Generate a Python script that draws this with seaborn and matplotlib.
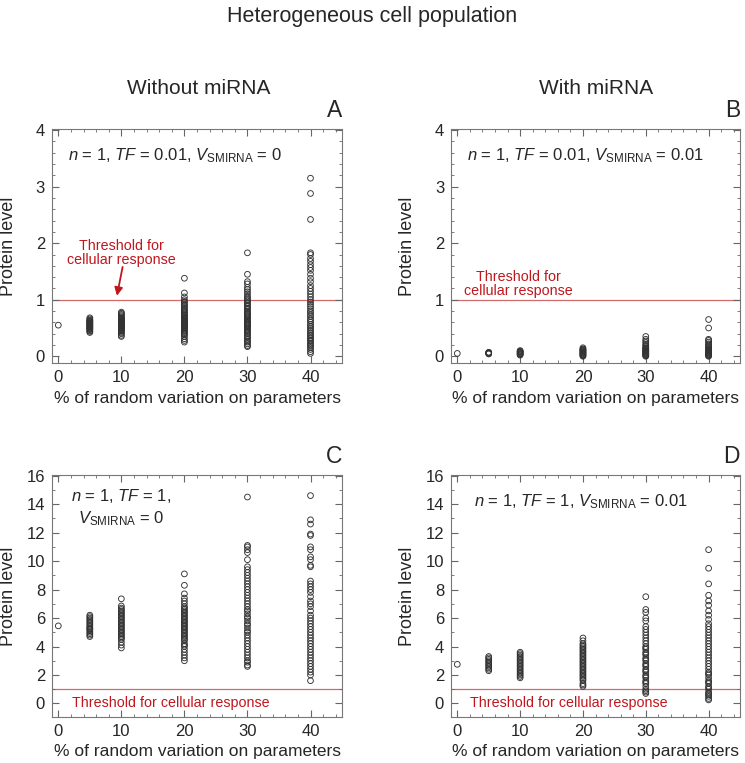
import numpy as np
import pandas as pd
import matplotlib.pyplot as plt
import seaborn as sns
from matplotlib.ticker import MultipleLocator

# x positions: % of random variation on parameters
variation = [0, 5, 10, 20, 30, 40]

# Panel A: TF = 0.01, no miRNA
a_0 = [0.55]
a_5 = [0.42, 0.44, 0.45, 0.47, 0.48, 0.49, 0.50, 0.51, 0.52, 0.53, 0.54, 0.55,
       0.56, 0.57, 0.58, 0.59, 0.60, 0.61, 0.62, 0.63, 0.64, 0.66, 0.68]
a_10 = [0.35, 0.37, 0.40, 0.42, 0.44, 0.45, 0.47, 0.48, 0.49, 0.50, 0.51, 0.52,
        0.53, 0.54, 0.55, 0.56, 0.57, 0.58, 0.59, 0.60, 0.61, 0.62, 0.63, 0.64,
        0.65, 0.66, 0.67, 0.68, 0.70, 0.72, 0.74, 0.76, 0.78]
a_20 = [0.25, 0.28, 0.31, 0.35, 0.38, 0.40, 0.42, 0.44, 0.46, 0.48, 0.50, 0.51,
        0.52, 0.54, 0.55, 0.56, 0.58, 0.59, 0.60, 0.62, 0.63, 0.64, 0.66, 0.67,
        0.68, 0.70, 0.72, 0.73, 0.75, 0.77, 0.79, 0.81, 0.83, 0.85, 0.88, 0.90,
        0.92, 0.95, 0.97, 1.00, 1.05, 1.12, 1.38]
a_30 = [0.17, 0.19, 0.22, 0.25, 0.27, 0.30, 0.33, 0.35, 0.37, 0.40, 0.42, 0.44,
        0.46, 0.48, 0.50, 0.52, 0.54, 0.55, 0.57, 0.59, 0.60, 0.62, 0.64, 0.66,
        0.68, 0.70, 0.72, 0.74, 0.76, 0.78, 0.80, 0.83, 0.85, 0.88, 0.90, 0.93,
        0.95, 0.98, 1.00, 1.03, 1.06, 1.10, 1.14, 1.18, 1.22, 1.28, 1.32, 1.45,
        1.83]
a_40 = [0.05, 0.08, 0.12, 0.15, 0.18, 0.20, 0.23, 0.26, 0.28, 0.31, 0.33, 0.36,
        0.38, 0.41, 0.44, 0.47, 0.50, 0.53, 0.56, 0.60, 0.63, 0.66, 0.70, 0.73,
        0.77, 0.80, 0.84, 0.88, 0.92, 0.96, 1.00, 1.05, 1.10, 1.15, 1.20, 1.25,
        1.32, 1.38, 1.45, 1.52, 1.57, 1.62, 1.68, 1.73, 1.80, 1.83, 2.42, 2.88,
        3.15]

# Panel B: TF = 0.01, with miRNA
b_0 = [0.05]
b_5 = [0.04, 0.05, 0.055, 0.06, 0.065, 0.07]
b_10 = [0.02, 0.03, 0.04, 0.05, 0.06, 0.07, 0.08, 0.09, 0.10]
b_20 = [0.0, 0.01, 0.02, 0.03, 0.04, 0.05, 0.06, 0.07, 0.08, 0.09, 0.10, 0.11,
        0.12, 0.13, 0.15]
b_30 = [0.0, 0.01, 0.02, 0.03, 0.04, 0.05, 0.06, 0.07, 0.08, 0.09, 0.10, 0.11,
        0.12, 0.13, 0.14, 0.15, 0.17, 0.19, 0.21, 0.24, 0.27, 0.30, 0.35]
b_40 = [0.0, 0.01, 0.02, 0.03, 0.04, 0.05, 0.06, 0.07, 0.08, 0.09, 0.10, 0.11,
        0.12, 0.14, 0.16, 0.18, 0.20, 0.22, 0.25, 0.28, 0.30, 0.50, 0.65]

# Panel C: TF = 1, no miRNA
c_0 = [5.45]
c_5 = [4.7, 4.8, 4.9, 5.0, 5.1, 5.2, 5.25, 5.3, 5.4, 5.5, 5.6, 5.7, 5.8, 5.9,
       6.0, 6.1, 6.2]
c_10 = [3.9, 4.1, 4.3, 4.5, 4.6, 4.7, 4.8, 4.9, 5.0, 5.1, 5.2, 5.3, 5.4, 5.5,
        5.6, 5.7, 5.8, 5.9, 6.0, 6.1, 6.2, 6.3, 6.4, 6.5, 6.6, 6.7, 6.85, 7.35]
c_20 = [3.0, 3.2, 3.4, 3.6, 3.8, 4.0, 4.1, 4.2, 4.4, 4.5, 4.6, 4.7, 4.8, 4.9,
        5.0, 5.1, 5.2, 5.3, 5.4, 5.5, 5.6, 5.7, 5.8, 5.9, 6.0, 6.1, 6.2, 6.3,
        6.4, 6.5, 6.6, 6.7, 6.8, 7.0, 7.2, 7.4, 7.7, 8.3, 9.1]
c_30 = [2.6, 2.7, 2.9, 3.0, 3.2, 3.4, 3.6, 3.8, 4.0, 4.2, 4.4, 4.6, 4.8, 5.0,
        5.1, 5.3, 5.5, 5.6, 5.8, 6.0, 6.1, 6.3, 6.5, 6.6, 6.8, 7.0, 7.2, 7.4,
        7.6, 7.8, 8.0, 8.2, 8.4, 8.6, 8.8, 9.0, 9.2, 9.4, 9.6, 10.1, 10.6,
        10.8, 11.0, 11.1, 14.5]
c_40 = [1.6, 2.0, 2.2, 2.4, 2.6, 2.8, 3.0, 3.2, 3.4, 3.6, 3.8, 4.0, 4.2, 4.4,
        4.6, 4.8, 5.0, 5.2, 5.4, 5.6, 5.8, 6.0, 6.2, 6.5, 6.8, 7.0, 7.2, 7.5,
        7.8, 8.0, 8.2, 8.4, 8.6, 9.6, 9.7, 10.1, 10.3, 10.8, 11.0, 11.8, 11.9,
        12.6, 12.9, 14.6]

# Panel D: TF = 1, with miRNA
d_0 = [2.75]
d_5 = [2.3, 2.4, 2.5, 2.6, 2.7, 2.8, 2.9, 3.0, 3.1, 3.2, 3.3]
d_10 = [1.8, 1.9, 2.0, 2.1, 2.2, 2.3, 2.4, 2.5, 2.6, 2.7, 2.8, 2.9, 3.0, 3.1,
        3.2, 3.3, 3.4, 3.5, 3.6]
d_20 = [1.2, 1.3, 1.4, 1.6, 1.7, 1.8, 1.9, 2.0, 2.1, 2.2, 2.3, 2.4, 2.5, 2.6,
        2.7, 2.8, 2.9, 3.0, 3.1, 3.2, 3.3, 3.4, 3.5, 3.6, 3.7, 3.8, 3.9, 4.0,
        4.1, 4.2, 4.4, 4.6]
d_30 = [0.7, 0.8, 0.9, 1.0, 1.2, 1.4, 1.5, 1.6, 1.8, 1.9, 2.0, 2.2, 2.3, 2.4,
        2.6, 2.7, 2.8, 3.0, 3.1, 3.2, 3.4, 3.5, 3.6, 3.8, 3.9, 4.0, 4.2, 4.4,
        4.6, 4.8, 5.0, 5.2, 5.4, 5.8, 6.0, 6.4, 6.6, 7.5]
d_40 = [0.25, 0.35, 0.5, 0.6, 0.7, 0.8, 1.0, 1.1, 1.2, 1.4, 1.5, 1.6, 1.8, 2.0,
        2.1, 2.2, 2.4, 2.6, 2.8, 3.0, 3.2, 3.4, 3.6, 3.8, 4.0, 4.2, 4.4, 4.6,
        4.8, 5.0, 5.2, 5.4, 5.6, 5.9, 6.2, 6.5, 6.9, 7.2, 7.6, 8.4, 9.5, 10.8]

panel_a = [a_0, a_5, a_10, a_20, a_30, a_40]
panel_b = [b_0, b_5, b_10, b_20, b_30, b_40]
panel_c = [c_0, c_5, c_10, c_20, c_30, c_40]
panel_d = [d_0, d_5, d_10, d_20, d_30, d_40]

threshold = 1.0


def to_frame(groups):
    rows = []
    for x, vals in zip(variation, groups):
        for v in vals:
            rows.append((x, v))
    return pd.DataFrame(rows, columns=['variation', 'protein'])


sns.set_style('ticks')
plt.rcParams['font.family'] = ['Liberation Sans', 'DejaVu Sans']
plt.rcParams['mathtext.fontset'] = 'custom'
plt.rcParams['mathtext.rm'] = 'Liberation Sans'
plt.rcParams['mathtext.it'] = 'Liberation Sans:italic'

fig = plt.figure(figsize=(7.45, 7.63), dpi=100)

boxes = {
    'A': [0.0698, 0.5242, 0.3893, 0.3067],
    'B': [0.6054, 0.5242, 0.3879, 0.3067],
    'C': [0.0698, 0.0603, 0.3893, 0.3172],
    'D': [0.6054, 0.0603, 0.3879, 0.3172],
}
data = {'A': panel_a, 'B': panel_b, 'C': panel_c, 'D': panel_d}
line_red = '#d46a6a'
text_red = '#c0161d'

axes = {}
for key, box in boxes.items():
    ax = fig.add_axes(box)
    axes[key] = ax
    df = to_frame(data[key])
    sns.scatterplot(data=df, x='variation', y='protein', ax=ax, marker='o',
                    s=17, facecolors='none', edgecolor='#333333',
                    linewidth=0.65, legend=False)
    ax.axhline(threshold, color=line_red, lw=0.9, zorder=0)
    ax.set_xlim(-1, 45)
    ax.set_xticks([0, 10, 20, 30, 40])
    ax.xaxis.set_minor_locator(MultipleLocator(2))
    if key in ('A', 'B'):
        ax.set_ylim(-0.12, 4.02)
        ax.set_yticks([0, 1, 2, 3, 4])
        ax.yaxis.set_minor_locator(MultipleLocator(0.2))
    else:
        ax.set_ylim(-0.95, 16.05)
        ax.set_yticks(range(0, 17, 2))
        ax.yaxis.set_minor_locator(MultipleLocator(1))
    ax.tick_params(which='both', direction='in', top=True, right=True,
                   color='#666666', labelsize=12)
    ax.tick_params(which='major', length=5, width=0.8, pad=5)
    ax.tick_params(which='minor', length=2.5, width=0.6)
    for sp in ax.spines.values():
        sp.set_color('#777777')
        sp.set_linewidth(0.8)
    ax.set_xlabel('% of random variation on parameters', fontsize=12.5,
                  labelpad=4)
    ax.set_ylabel('Protein level', fontsize=13)
    ax.yaxis.set_label_coords(-0.12, 0.5)
    ax.text(1.0, 1.03, key, transform=ax.transAxes, ha='right', va='bottom',
            fontsize=16.5)

# parameter annotations
axes['A'].text(1.6, 3.55, r'$n$ = 1, $TF$ = 0.01, $V_{\mathrm{SMIRNA}}$ = 0',
               fontsize=12, va='center')
axes['B'].text(1.6, 3.55, r'$n$ = 1, $TF$ = 0.01, $V_{\mathrm{SMIRNA}}$ = 0.01',
               fontsize=12, va='center')
axes['C'].text(10.0, 14.55, r'$n$ = 1, $TF$ = 1,', fontsize=12,
               ha='center', va='center')
axes['C'].text(10.0, 13.0, r'$V_{\mathrm{SMIRNA}}$ = 0', fontsize=12,
               ha='center', va='center')
axes['D'].text(2.7, 14.2, r'$n$ = 1, $TF$ = 1, $V_{\mathrm{SMIRNA}}$ = 0.01',
               fontsize=12, va='center')

# threshold labels
axes['A'].text(10.0, 1.82, 'Threshold for\ncellular response', ha='center',
               va='center', color=text_red, fontsize=10.3, linespacing=1.0)
axes['A'].annotate('', xy=(9.3, 1.07), xytext=(10.2, 1.58),
                   arrowprops=dict(arrowstyle='-|>', color=text_red, lw=1.3,
                                   shrinkA=0, shrinkB=0, mutation_scale=12))
axes['B'].text(9.8, 1.28, 'Threshold for\ncellular response', ha='center',
               va='center', color=text_red, fontsize=10.3, linespacing=1.0)
axes['C'].text(2.2, 0.0, 'Threshold for cellular response', color=text_red,
               fontsize=10.3, va='center')
axes['D'].text(2.0, 0.0, 'Threshold for cellular response', color=text_red,
               fontsize=10.3, va='center')

fig.text(0.5, 0.978, 'Heterogeneous cell population', ha='center',
         va='center', fontsize=15.5)
fig.text(0.267, 0.884, 'Without miRNA', ha='center', va='center', fontsize=15)
fig.text(0.80, 0.884, 'With miRNA', ha='center', va='center', fontsize=15)

fig.savefig('out.png', dpi=100)
